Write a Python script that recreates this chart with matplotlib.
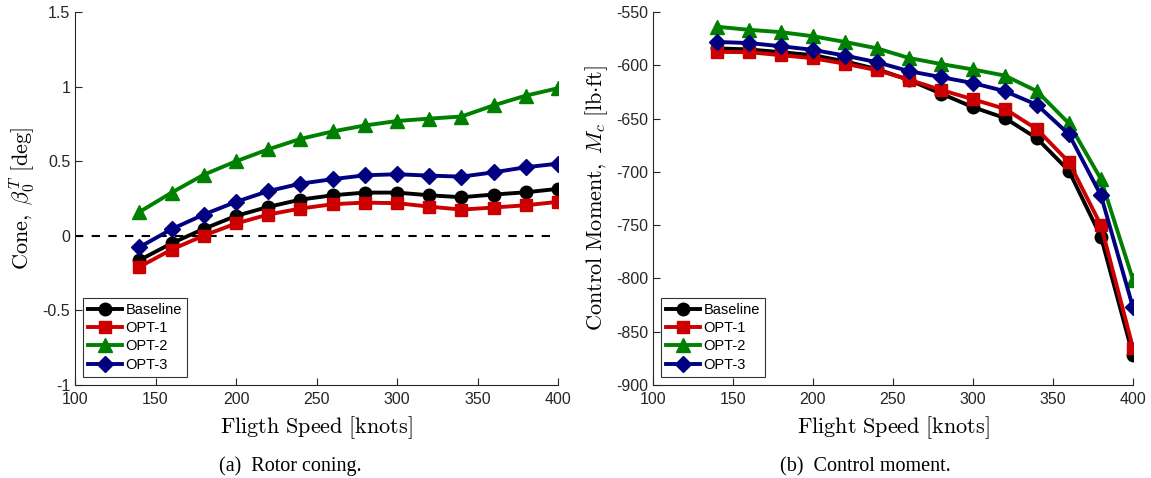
import numpy as np
import matplotlib.pyplot as plt

plt.rcParams['mathtext.fontset'] = 'cm'
plt.rcParams['font.family'] = 'Liberation Sans'
plt.rcParams['axes.unicode_minus'] = False

speed = [140, 160, 180, 200, 220, 240, 260, 280, 300, 320, 340, 360, 380, 400]
labels = ['Baseline', 'OPT-1', 'OPT-2', 'OPT-3']

# Rotor coning [deg]
cone_base = [-0.163, -0.05, 0.047, 0.134, 0.194, 0.243, 0.272, 0.29, 0.29, 0.272, 0.259, 0.277, 0.292, 0.315]
cone_opt1 = [-0.208, -0.092, 0.002, 0.083, 0.143, 0.183, 0.212, 0.223, 0.219, 0.196, 0.176, 0.19, 0.205, 0.228]
cone_opt2 = [0.16, 0.29, 0.41, 0.50, 0.58, 0.65, 0.70, 0.74, 0.77, 0.786, 0.80, 0.875, 0.94, 0.99]
cone_opt3 = [-0.076, 0.045, 0.143, 0.228, 0.30, 0.35, 0.38, 0.406, 0.413, 0.404, 0.397, 0.426, 0.46, 0.484]

# Control moment [lb.ft]
mom_base = [-584, -585, -587.6, -590.4, -596.2, -603.5, -613.7, -626.4, -639.2, -649.4, -668.5, -699, -760.8, -872]
mom_opt1 = [-587.3, -587.6, -590.4, -593.3, -598.4, -604.5, -613.4, -623, -631.8, -640.8, -659.9, -690.8, -750, -865]
mom_opt2 = [-563.7, -566.6, -568.8, -572.6, -578, -584, -593, -598.7, -603.8, -609.6, -624.2, -654.5, -706.7, -801]
mom_opt3 = [-578, -579, -582, -585.4, -590.8, -597, -605.4, -611, -616.6, -624.2, -637, -664.6, -722, -827]

colors = ['black', '#cc0000', '#008000', '#000080']
markers = ['o', 's', '^', 'D']
msizes = [9, 8, 10, 8]


def style_axes(ax):
    # MATLAB-like look: no box, inward ticks
    ax.spines['top'].set_visible(False)
    ax.spines['right'].set_visible(False)
    for s in ['left', 'bottom']:
        ax.spines[s].set_color('#262626')
        ax.spines[s].set_linewidth(0.8)
    ax.tick_params(direction='in', length=5, width=0.8, labelsize=11.5, colors='#262626')
    ax.tick_params(axis='x', pad=5)
    ax.set_xlim(100, 400)
    ax.set_xticks([100, 150, 200, 250, 300, 350, 400])


def add_series(ax, data):
    for y, c, m, ms, lab in zip(data, colors, markers, msizes, labels):
        ax.plot(speed, y, color=c, marker=m, markersize=ms, linewidth=2.8, label=lab)
    leg = ax.legend(loc='lower left', fontsize=10.5, frameon=True, fancybox=False,
                    handlelength=2.3, handletextpad=0.25, borderpad=0.35,
                    labelspacing=0.3, borderaxespad=0.55, edgecolor='black')
    leg.get_frame().set_linewidth(0.8)


fig = plt.figure(figsize=(11.51, 4.78), dpi=100)
ax1 = fig.add_axes([0.0652, 0.1946, 0.4196, 0.780])
ax2 = fig.add_axes([0.5673, 0.1946, 0.417, 0.780])

# (a) Rotor coning
ax1.plot([100, 400], [0, 0], 'k--', linewidth=1.5, dashes=(4, 4))
add_series(ax1, [cone_base, cone_opt1, cone_opt2, cone_opt3])
style_axes(ax1)
ax1.set_ylim(-1, 1.5)
ax1.set_yticks([-1, -0.5, 0, 0.5, 1, 1.5])
ax1.set_yticklabels(['-1', '-0.5', '0', '0.5', '1', '1.5'])
ax1.set_xlabel(r'$\mathrm{Fligth\ Speed\ [knots]}$', fontsize=16, labelpad=5)
ax1.set_ylabel(r'$\mathrm{Cone,}\ \beta_0^T\ \mathrm{[deg]}$', fontsize=16, labelpad=4)

# (b) Control moment
add_series(ax2, [mom_base, mom_opt1, mom_opt2, mom_opt3])
style_axes(ax2)
ax2.set_ylim(-900, -550)
ax2.set_yticks(np.arange(-900, -549, 50))
ax2.set_xlabel(r'$\mathrm{Flight\ Speed\ [knots]}$', fontsize=16, labelpad=5)
ax2.set_ylabel(r'$\mathrm{Control\ Moment,}\ M_c\ \mathrm{[lb{\cdot}ft]}$', fontsize=16, labelpad=4)

fig.text(0.252, 0.014, '(a)  Rotor coning.', ha='center', fontsize=14.5, family='Liberation Serif')
fig.text(0.752, 0.014, '(b)  Control moment.', ha='center', fontsize=14.5, family='Liberation Serif')

fig.savefig('out.png', dpi=100)
